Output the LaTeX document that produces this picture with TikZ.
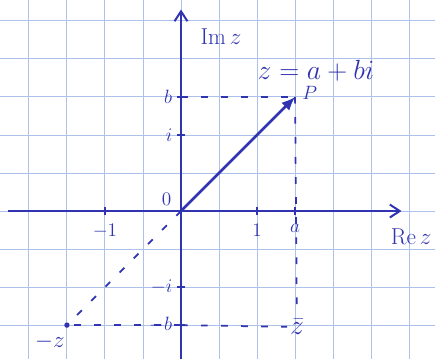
\documentclass[tikz,border=0pt]{standalone}
\usepackage{amsmath, amssymb}
\usepackage{tikz}
\usetikzlibrary{positioning,arrows.meta}
\definecolor{ink}{RGB}{48,52,176}
\definecolor{paper}{RGB}{172,194,234}
\tikzset{
  axisline/.style={ink, line width=1.5pt, -{Straight Barb[length=2.6mm, width=3.4mm]}},
  vecarrow/.style={ink, line width=2pt, -{Latex[length=3.6mm, width=3mm]}},
  guide/.style={ink, line width=1.3pt, dash pattern=on 5pt off 10pt},
  tickmark/.style={ink, line width=1.5pt},
  gridline/.style={paper, line width=0.7pt},
  axislabel/.style={ink, font=\LARGE, inner sep=1pt},
  ticklabel/.style={ink, font=\Large, inner sep=1pt}
}
\begin{document}
\begin{tikzpicture}[>=Latex]
  \useasboundingbox (-4.76,-3.89) rectangle (6.68,5.55);
  % squared paper
  \foreach \x in {-4,...,6} \draw[gridline] (\x,-3.89) -- (\x,5.55);
  \foreach \y in {-3,...,5} \draw[gridline] (-4.76,\y) -- (6.68,\y);
  % points
  \coordinate (O) at (0,0);
  \coordinate (P) at (3,3);
  \coordinate (R) at (-3,-3);
  \coordinate (B) at (0,3);
  \coordinate (Bm) at (0,-3);
  \coordinate (xs) at (-4.55,0);
  \coordinate (xe) at (5.8,0);
  \coordinate (ys) at (0,-3.89);
  \coordinate (ye) at (0,5.3);
  % axes
  \draw[axisline] (xs) -- (xe);
  \draw[axisline] (ys) -- (ye);
  \node[axislabel] (re) at (6.05,-0.68) {$\mathrm{Re}\,z$};
  \node[axislabel] (im) at (1.05,4.6) {$\mathrm{Im}\,z$};
  \node[ticklabel] (zero) at (-0.38,0.32) {$0$};
  % ticks
  \foreach \x/\t in {-2/-1, 2/1, 3/a}
    \draw[tickmark] (\x,0.1) -- (\x,-0.1) node[ticklabel, below=5pt] {$\t$};
  \foreach \y/\t in {3/b, 2/i, -2/-i, -3/-b}
    \draw[tickmark] (0.1,\y) -- (-0.1,\y) node[ticklabel, left=2pt] {$\t$};
  % conjugate and opposite
  \node[ink, font=\huge, inner sep=2pt] (zbar) at (3.05,-3.05) {$\bar z$};
  \node[axislabel] (zneg) at (-3.45,-3.45) {$-z$};
  % guides
  \draw[guide] (B) -- (P);
  \draw[guide] (P) -- (zbar);
  \draw[guide] (Bm) -- (zbar);
  \draw[guide] (Bm) -- (R);
  \draw[guide] (O) -- (R);
  \fill[ink] (R) circle (2pt);
  % vector
  \draw[vecarrow] (O) -- (P);
  \node[ink, font=\Large, right=2pt of P, yshift=3pt] (plabel) {$P$};
  \node[ink, font=\huge, inner sep=1pt] (zlabel) at (3.55,3.68) {$z=a+bi$};
\end{tikzpicture}
\end{document}
